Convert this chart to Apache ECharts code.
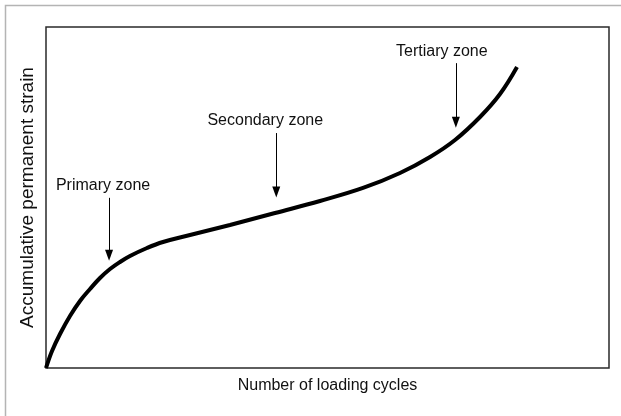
<!DOCTYPE html>
<html>
<head>
    <meta charset="utf-8">
    <title>ECharts</title>
    <script type="text/javascript" src="https://cdn.jsdelivr.net/npm/echarts@6/dist/echarts.min.js"></script>
</head>
<body style="margin:0;background:#fff;">
    <div id="main" style="width: 621px;height:416px;"></div>
    <script type="text/javascript">
        // curve (cycles, strain) in 0..100 units
        var cycles = [0, 1.07, 2.49, 4.26, 6.04, 7.82, 9.59, 11.37, 13.14, 14.92, 17.94, 20.78, 25.58, 32.68, 40.67, 48.67, 56.31, 62.88, 68.21, 72.65, 77.09, 80.64, 83.66];
        var strain = [0, 4.99, 9.97, 15.25, 19.65, 23.17, 26.39, 29.03, 31.09, 32.84, 35.19, 36.95, 39.0, 41.94, 45.45, 48.97, 52.79, 57.18, 61.88, 66.86, 73.61, 80.35, 88.27];

        // zone arrows: label, x, arrow top, arrow tip
        var zoneNames = ['Primary zone', 'Secondary zone', 'Tertiary zone'];
        var zoneX = [11.2, 40.9, 72.8];
        var zoneTop = [49.9, 68.9, 89.4];
        var zoneTip = [33.1, 51.6, 72.1];
        // label sits a little left of its arrow
        var labelShift = [-6, -11, -14];

        var myChart = echarts.init(document.getElementById('main'));

        var curve = [];
        for (var i = 0; i < cycles.length; i++) {
            curve.push([cycles[i], strain[i]]);
        }
        var arrows = [];
        for (var j = 0; j < zoneNames.length; j++) {
            arrows.push([
                { name: zoneNames[j], coord: [zoneX[j], zoneTop[j]], label: { offset: [labelShift[j], 0] } },
                { coord: [zoneX[j], zoneTip[j]] }
            ]);
        }

        var option = {
            animation: false,
            textStyle: { fontFamily: 'Liberation Sans, Arial, sans-serif' },
            graphic: [{
                type: 'rect',
                shape: { x: 5.5, y: 5.5, width: 700, height: 500 },
                style: { fill: 'none', stroke: '#b4b4b4', lineWidth: 1.5 },
                silent: true
            }],
            grid: {
                left: 46, right: 12, top: 27, bottom: 48,
                show: true,
                borderColor: '#2a2a2a',
                borderWidth: 1.5
            },
            xAxis: {
                type: 'value',
                min: 0, max: 100,
                name: 'Number of loading cycles',
                nameLocation: 'middle',
                nameGap: 10,
                nameTextStyle: { fontSize: 16, color: '#111' },
                axisLine: { show: false },
                axisTick: { show: false },
                axisLabel: { show: false },
                splitLine: { show: false }
            },
            yAxis: {
                type: 'value',
                min: 0, max: 100,
                name: 'Accumulative permanent strain',
                nameLocation: 'middle',
                nameGap: 9,
                nameTextStyle: { fontSize: 19, color: '#111' },
                axisLine: { show: false },
                axisTick: { show: false },
                axisLabel: { show: false },
                splitLine: { show: false }
            },
            series: [{
                type: 'line',
                data: curve,
                smooth: 0.4,
                symbol: 'none',
                lineStyle: { color: '#000', width: 4 },
                markLine: {
                    silent: true,
                    symbol: ['none', 'triangle'],
                    symbolSize: [8, 11],
                    lineStyle: { color: '#000', width: 1, type: 'solid' },
                    label: {
                        show: true,
                        position: 'start',
                        formatter: '{b}',
                        fontSize: 16,
                        color: '#111',
                        distance: 4
                    },
                    data: arrows
                }
            }]
        };

        myChart.setOption(option);
    </script>
</body>
</html>
